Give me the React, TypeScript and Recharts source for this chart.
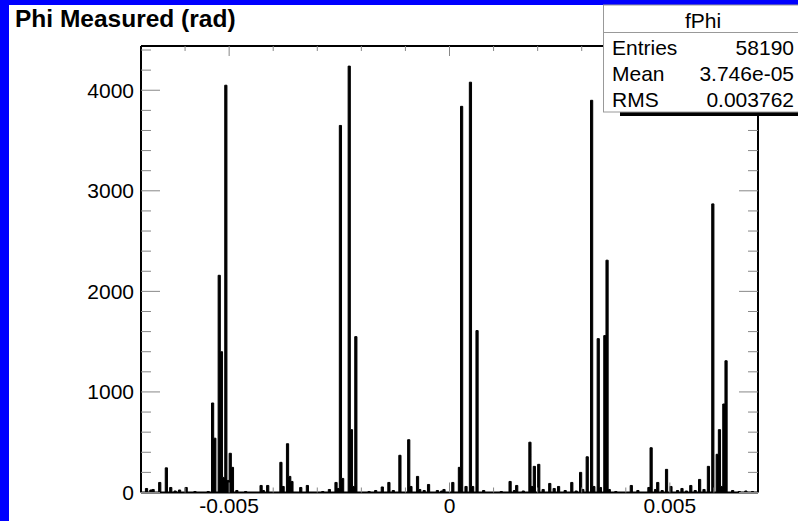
import React from 'react';
import { ComposedChart, Area, XAxis, YAxis } from 'recharts';

const TITLE = 'Phi Measured (rad)';
const HIST_NAME = 'fPhi';
const STAT_LABELS = ['Entries', 'Mean', 'RMS'];
const STAT_VALUES = ['58190', '3.746e-05', '0.003762'];

const X_MIN = -0.007;
const X_MAX = 0.007;
const BIN_WIDTH = 0.00005;
const Y_MAX = 4440;

const X_TICKS = [-0.006, -0.005, -0.004, -0.003, -0.002, -0.001, 0, 0.001, 0.002, 0.003, 0.004, 0.005, 0.006];
const X_LABELED = [-0.005, 0, 0.005];
const Y_TICKS = [0, 200, 400, 600, 800, 1000, 1200, 1400, 1600, 1800, 2000, 2200, 2400, 2600, 2800, 3000, 3200, 3400, 3600, 3800, 4000, 4200, 4400];
const Y_LABELED = [0, 1000, 2000, 3000, 4000];

// lower edges (rad) of the non-empty bins
const binLowEdges = [
  -0.0069, -0.0068, -0.00675, -0.0066, -0.00645, -0.00635, -0.00625, -0.00615, -0.006, -0.0058, -0.0055,
  -0.0054, -0.00535, -0.00525, -0.0052, -0.00515, -0.0051, -0.00505, -0.005, -0.00495, -0.00485, -0.00465,
  -0.0043, -0.00425, -0.00415, -0.00385, -0.0038, -0.0037, -0.00365, -0.0036, -0.0034, -0.00325, -0.0029,
  -0.00275, -0.0026, -0.00255, -0.0025, -0.00245, -0.0023, -0.00225, -0.0022, -0.00215, -0.00185, -0.0017,
  -0.00155, -0.0014, -0.0013, -0.00115, -0.00095, -0.0009, -0.00075, -0.0007, -0.0006, -0.0005, -0.0003,
  -0.0002, -0.00015, 0.00005, 0.0002, 0.00025, 0.00035, 0.00045, 0.0005, 0.0006, 0.00075, 0.00115,
  0.00135, 0.00145, 0.0015, 0.00165, 0.0018, 0.00185, 0.0019, 0.002, 0.0021, 0.00225, 0.00235, 0.00245,
  0.0026, 0.00275, 0.00285, 0.00295, 0.003, 0.0031, 0.0032, 0.00325, 0.00335, 0.0034, 0.0035, 0.00355,
  0.0036, 0.00375, 0.0041, 0.00425, 0.0045, 0.00455, 0.00465, 0.0047, 0.0048, 0.0049, 0.005, 0.00515,
  0.00525, 0.00535, 0.00545, 0.00555, 0.00565, 0.00575, 0.00585, 0.00595, 0.00605, 0.0061, 0.00615,
  0.0062, 0.00625, 0.0064, 0.00655, 0.0067, 0.00685,
];
const binCounts = [
  40, 25, 30, 100, 245, 50, 15, 25, 50, 10, 10,
  890, 540, 2160, 1400, 150, 4050, 120, 390, 250, 20, 10,
  70, 20, 70, 300, 60, 485, 160, 110, 50, 70, 10,
  30, 100, 40, 3650, 140, 4240, 625, 60, 1550, 10, 20,
  55, 100, 20, 370, 525, 60, 160, 30, 20, 80, 20,
  15, 30, 100, 250, 3840, 60, 4080, 60, 1610, 20, 10,
  110, 20, 70, 15, 500, 60, 260, 280, 30, 90, 40, 60,
  20, 100, 15, 200, 30, 355, 3900, 60, 1530, 50, 1560, 2310,
  30, 10, 70, 20, 50, 445, 30, 100, 20, 230, 60, 20,
  40, 15, 70, 20, 130, 30, 260, 2870, 380, 625, 60,
  880, 1310, 20, 10, 15, 10,
];

const histogram = (() => {
  const n = Math.round((X_MAX - X_MIN) / BIN_WIDTH);
  const rows: { phi: number; count: number }[] = [];
  for (let k = 0; k <= n; k++) rows.push({ phi: X_MIN + k * BIN_WIDTH, count: 0 });
  binLowEdges.forEach((edge, i) => {
    const k = Math.round((edge - X_MIN) / BIN_WIDTH);
    rows[k].count += binCounts[i];
  });
  return rows;
})();

const FONT = '"Liberation Sans", Arial, Helvetica, sans-serif';
const TICK_COLOR = '#888';
const near = (v: number, list: number[]) => list.some((t) => Math.abs(t - v) < 1e-9);
const fmtX = (v: number) => (Math.abs(v) < 1e-12 ? '0' : v.toFixed(3));

const BottomTick = (props: any) => {
  const { x, y, payload } = props;
  const major = near(payload.value, X_LABELED);
  return (
    <g>
      <line x1={x} x2={x} y1={y} y2={y - (major ? 10 : 5)} stroke={TICK_COLOR} strokeWidth={1} />
      {major && (
        <text x={x} y={y + 20.5} textAnchor="middle" fontSize={21} fontFamily={FONT} fill="#000">
          {fmtX(payload.value)}
        </text>
      )}
    </g>
  );
};

const TopTick = (props: any) => {
  const { x, y, payload } = props;
  const major = near(payload.value, X_LABELED);
  return <line x1={x} x2={x} y1={y} y2={y + (major ? 10 : 5)} stroke={TICK_COLOR} strokeWidth={1} />;
};

const LeftTick = (props: any) => {
  const { x, y, payload } = props;
  const major = near(payload.value, Y_LABELED);
  return (
    <g>
      <line x1={x} x2={x + (major ? 19 : 10)} y1={y} y2={y} stroke={TICK_COLOR} strokeWidth={1} />
      {major && (
        <text x={x - 7} y={y + 7.5} textAnchor="end" fontSize={21} fontFamily={FONT} fill="#000">
          {payload.value}
        </text>
      )}
    </g>
  );
};

const RightTick = (props: any) => {
  const { x, y, payload } = props;
  const major = near(payload.value, Y_LABELED);
  return <line x1={x} x2={x - (major ? 19 : 10)} y1={y} y2={y} stroke={TICK_COLOR} strokeWidth={1} />;
};

const frameLine = { stroke: '#000', strokeWidth: 2 };

export default function App() {
  return (
    <div style={{ position: 'absolute', left: 0, top: 0, width: 798, height: 521, background: '#fff', overflow: 'hidden' }}>
      <ComposedChart
        width={798}
        height={521}
        data={histogram}
        margin={{ top: 16, right: 0, bottom: 0.5, left: 81 }}
      >
        <XAxis
          xAxisId="bottom"
          dataKey="phi"
          type="number"
          domain={[X_MIN, X_MAX]}
          allowDataOverflow
          ticks={X_TICKS}
          interval={0}
          tickSize={0}
          tickMargin={0}
          height={28}
          axisLine={frameLine}
          tick={<BottomTick />}
        />
        <XAxis
          xAxisId="top"
          orientation="top"
          dataKey="phi"
          type="number"
          domain={[X_MIN, X_MAX]}
          allowDataOverflow
          ticks={X_TICKS}
          interval={0}
          tickSize={0}
          tickMargin={0}
          height={30}
          axisLine={frameLine}
          tick={<TopTick />}
        />
        <YAxis
          yAxisId="left"
          type="number"
          domain={[0, Y_MAX]}
          allowDataOverflow
          ticks={Y_TICKS}
          interval={0}
          tickSize={0}
          tickMargin={0}
          width={60}
          axisLine={frameLine}
          tick={<LeftTick />}
        />
        <YAxis
          yAxisId="right"
          orientation="right"
          type="number"
          domain={[0, Y_MAX]}
          allowDataOverflow
          ticks={Y_TICKS}
          interval={0}
          tickSize={0}
          tickMargin={0}
          width={40}
          axisLine={frameLine}
          tick={<RightTick />}
        />
        <Area
          xAxisId="bottom"
          yAxisId="left"
          type="stepAfter"
          dataKey="count"
          stroke="#000"
          strokeWidth={1}
          fill="#000"
          fillOpacity={1}
          dot={false}
          activeDot={false}
          isAnimationActive={false}
        />
      </ComposedChart>
      <svg
        width={798}
        height={521}
        style={{ position: 'absolute', left: 0, top: 0, pointerEvents: 'none' }}
      >
        <rect x={0} y={0} width={9} height={521} fill="#0000ff" />
        <rect x={0} y={0} width={798} height={5} fill="#0000ff" />
        <text x={15} y={26.5} fontSize={24.5} fontWeight="bold" fontFamily={FONT} fill="#000">
          {TITLE}
        </text>
        <rect x={620} y={112} width={200} height={4} fill="#000" />
        <rect x={603.5} y={5} width={200} height={107} fill="#fff" stroke="#999" strokeWidth={1} />
        <line x1={603.5} x2={803} y1={32.5} y2={32.5} stroke="#999" strokeWidth={1} />
        <text x={703} y={27.5} textAnchor="middle" fontSize={21} fontFamily={FONT} fill="#000">
          {HIST_NAME}
        </text>
        {STAT_LABELS.map((label, i) => (
          <g key={label}>
            <text x={612} y={54.5 + i * 26.3} fontSize={21} fontFamily={FONT} fill="#000">
              {label}
            </text>
            <text x={794} y={54.5 + i * 26.3} textAnchor="end" fontSize={21} fontFamily={FONT} fill="#000">
              {STAT_VALUES[i]}
            </text>
          </g>
        ))}
      </svg>
    </div>
  );
}
